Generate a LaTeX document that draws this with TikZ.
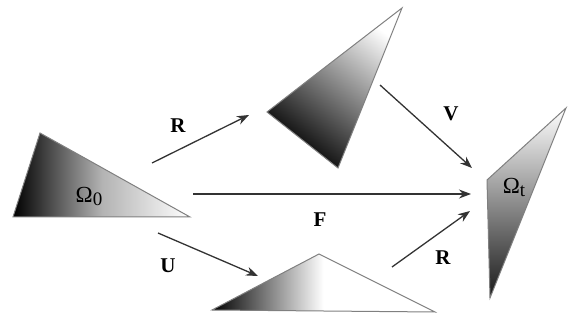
\documentclass[tikz,border=0pt]{standalone}
\usepackage{fontspec}
\setmainfont{Liberation Serif}
\usetikzlibrary{arrows.meta}
\begin{document}
\begin{tikzpicture}[x=1pt,y=-1pt,
  conn/.style={draw=black!80, line width=1.3pt, -{Stealth[length=12pt,width=9pt]}},
  lbl/.style={font=\fontsize{21}{21}\selectfont\bfseries, inner sep=0pt},
  tri/.style={draw=black!50, line width=1pt},
  omega/.style={font=\fontsize{23}{23}\selectfont, inner sep=0pt}]
\useasboundingbox (0,0) rectangle (568,320);
% triangles
\shade[left color=black, right color=white, middle color=black!30] (40,133) -- (13,217) -- (190,217) -- cycle;
\draw[tri] (40,133) -- (13,217) -- (190,217) -- cycle;
\shade[top color=white, bottom color=black, shading angle=-38] (402,8) -- (267,112) -- (338,168) -- cycle;
\draw[tri] (402,8) -- (267,112) -- (338,168) -- cycle;
\shade[left color=black, right color=white, middle color=white] (212,310) -- (319,254) -- (435,312) -- cycle;
\draw[tri] (212,310) -- (319,254) -- (435,312) -- cycle;
\shade[top color=white, bottom color=black!90] (566,108) -- (487,180) -- (490,298) -- cycle;
\draw[tri] (566,108) -- (487,180) -- (490,298) -- cycle;
% labels in triangles
\node[omega] (o0) at (89,196) {Ω\raisebox{-3pt}{\fontsize{19}{19}\selectfont 0}};
\node[omega] (ot) at (514,187) {Ω\raisebox{-3pt}{\fontsize{19}{19}\selectfont t}};
% arrow end points
\coordinate (r1s) at (152,163); \coordinate (r1e) at (249,115);
\coordinate (vs) at (380,85);   \coordinate (ve) at (472,168);
\coordinate (fs) at (193,194);  \coordinate (fe) at (471,194);
\coordinate (us) at (158,233);  \coordinate (ue) at (258,276);
\coordinate (r2s) at (392,267); \coordinate (r2e) at (470,211);
\draw[conn] (r1s) -- (r1e);
\draw[conn] (vs) -- (ve);
\draw[conn] (fs) -- (fe);
\draw[conn] (us) -- (ue);
\draw[conn] (r2s) -- (r2e);
% arrow labels
\node[lbl] (lr1) at (178,126) {R};
\node[lbl] (lv) at (451,114) {V};
\node[lbl] (lf) at (320,220) {F};
\node[lbl] (lu) at (168,266) {U};
\node[lbl] (lr2) at (443,258) {R};
\end{tikzpicture}
\end{document}
